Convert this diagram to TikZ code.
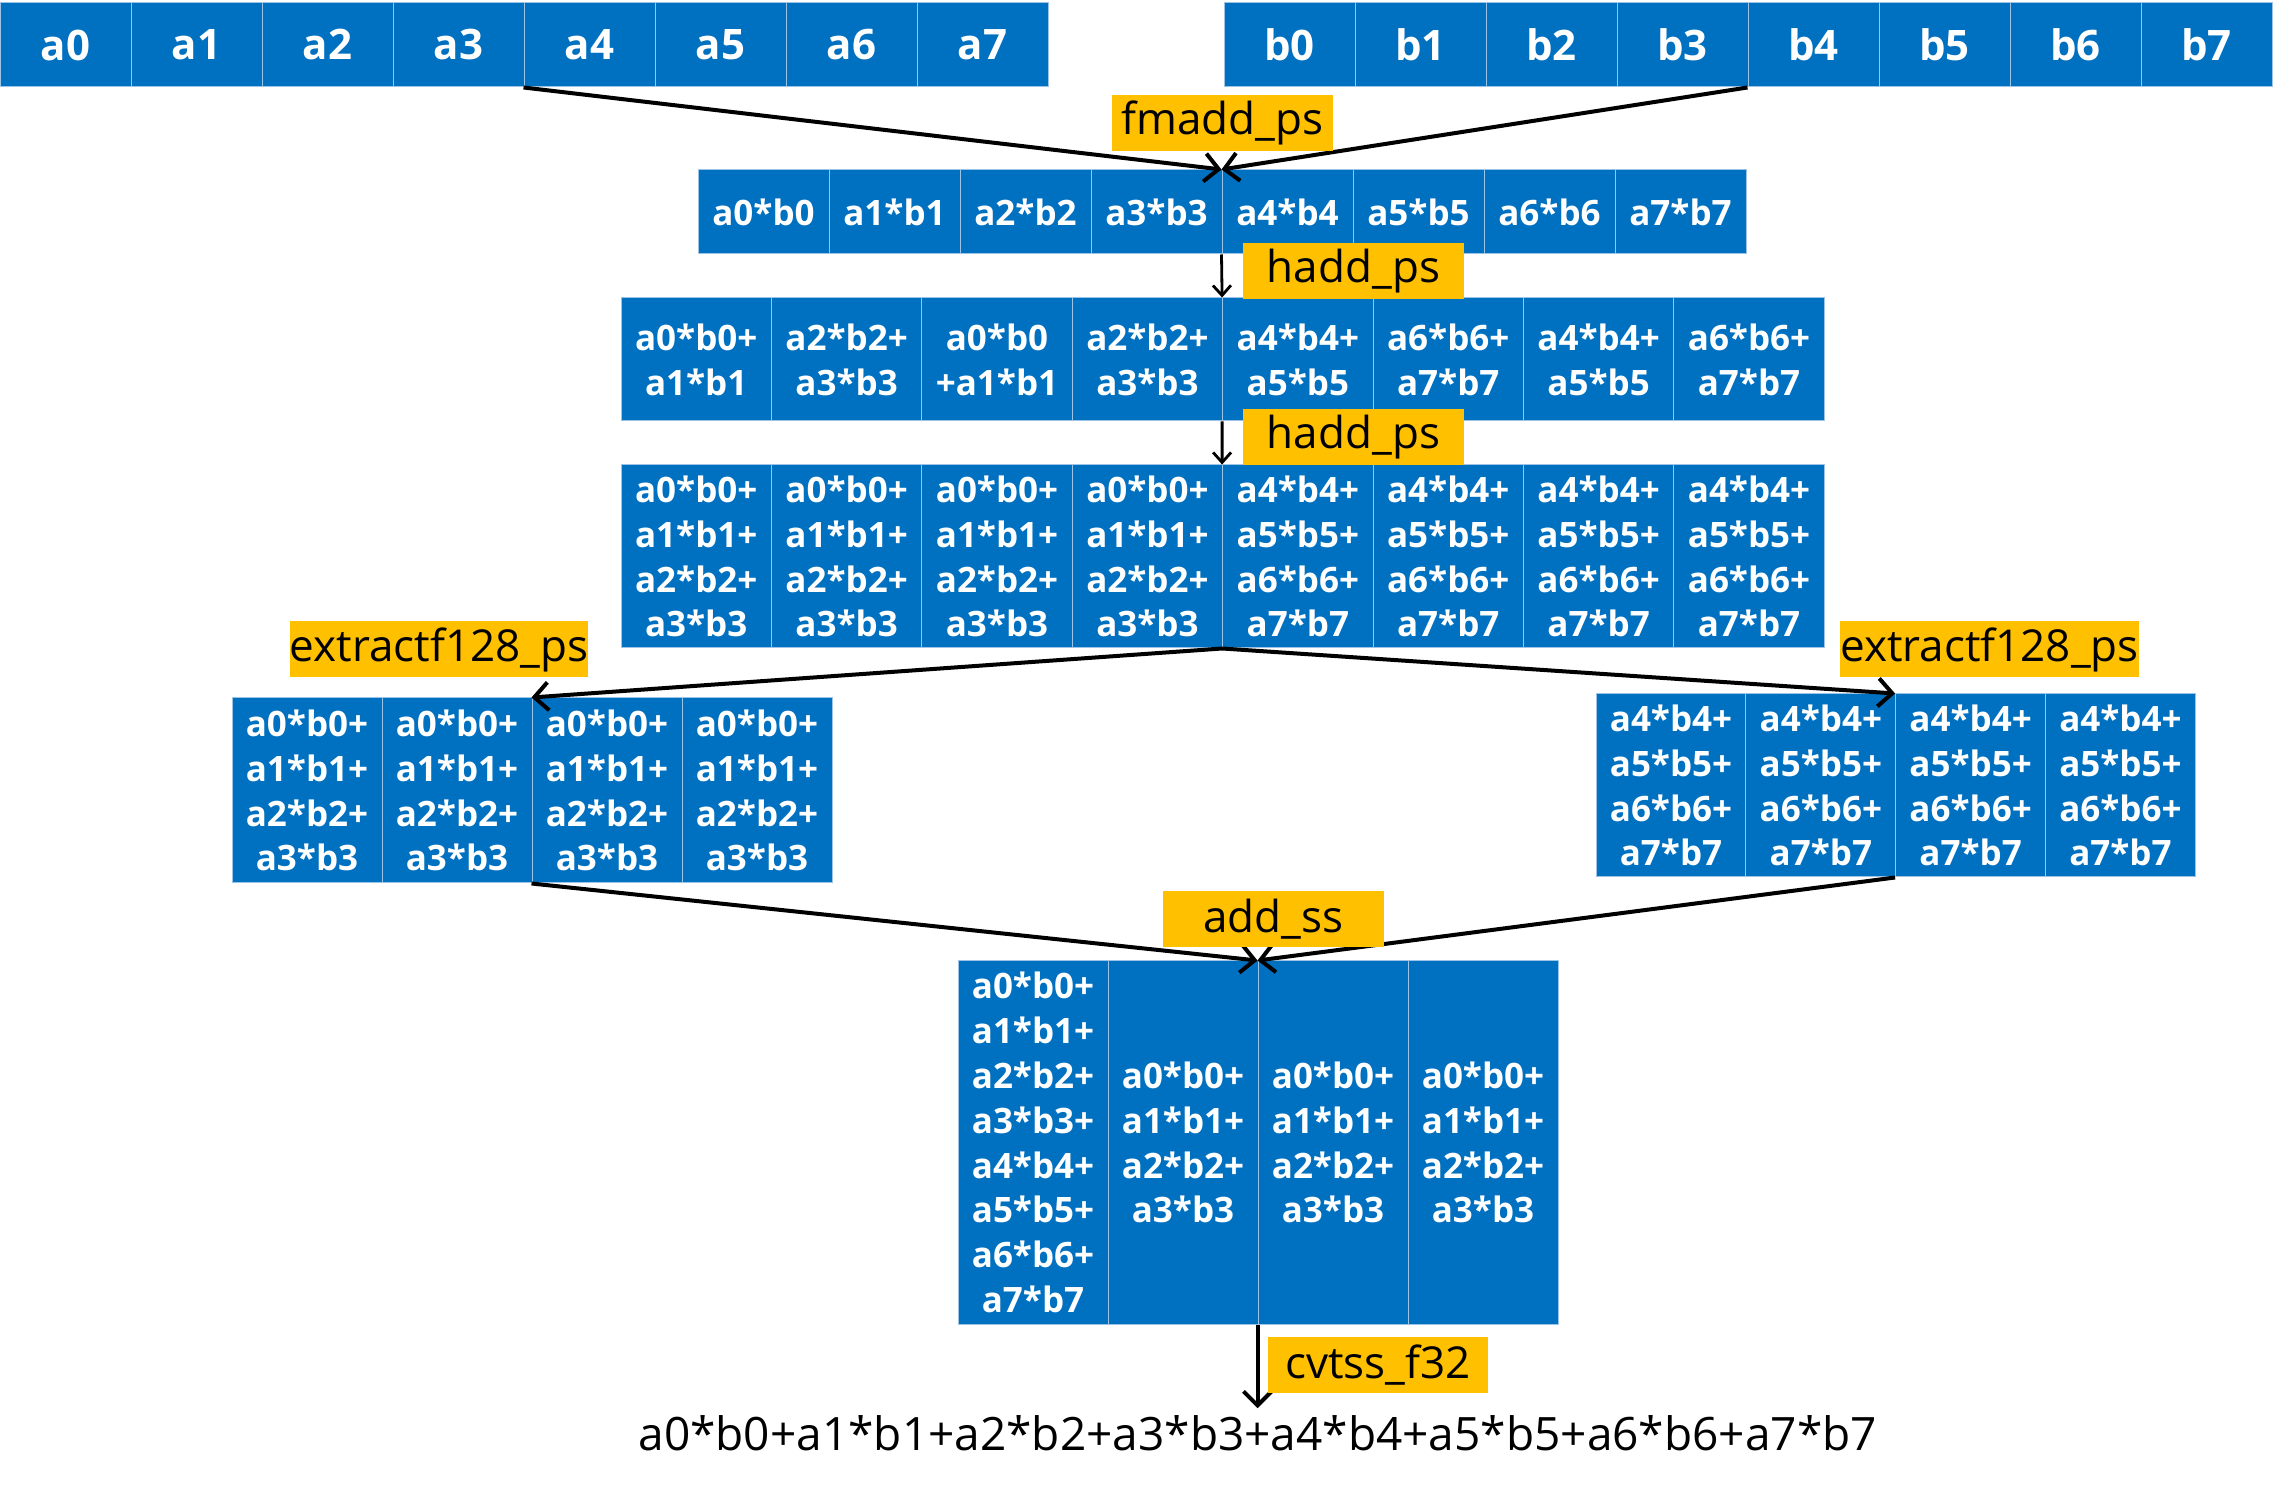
\documentclass[tikz,border=0pt]{standalone}
\usepackage{fontspec}
\setmainfont{Open Sans}
\usetikzlibrary{arrows.meta}

\definecolor{zellblau}{RGB}{0,112,192}
\definecolor{zellrand}{RGB}{157,195,230}
\definecolor{befehlgelb}{RGB}{255,192,0}

\tikzset{
  zelle/.style={draw=zellrand, line width=0.5pt, fill=zellblau, text=white,
    font=\bfseries\fontsize{17.5}{22.4}\selectfont, inner sep=0pt, align=center},
  befehl/.style={fill=befehlgelb, inner sep=0pt, minimum height=28pt,
    font=\fontsize{22}{26}\selectfont},
  dick/.style={line width=2pt},
  duenn/.style={line width=1.4pt, >={Straight Barb[length=5pt,width=9pt]}}
}

\begin{document}
\begin{tikzpicture}[x=0.5pt,y=-0.5pt,>={Straight Barb[length=7pt,width=14pt]}]
\useasboundingbox (0,0) rectangle (2277,1491);

% Eingangsvektoren
\foreach \i in {0,...,7} {
  \node[zelle, font=\bfseries\fontsize{21}{25}\selectfont, minimum width=65.5pt, minimum height=42pt]
    (a\i) at ({65.5+131*\i},45) {a\i};
  \node[zelle, font=\bfseries\fontsize{21}{25}\selectfont, minimum width=65.5pt, minimum height=42pt]
    (b\i) at ({1289.5+131*\i},45) {b\i};
}

% Produkte
\foreach \i in {0,...,7}
  \node[zelle, minimum width=65.5pt, minimum height=42pt] (p\i) at ({763.5+131*\i},212) {a\i*b\i};

% erstes hadd
\foreach \i/\txt in {0/{a0*b0+\\a1*b1}, 1/{a2*b2+\\a3*b3}, 2/{a0*b0\\+a1*b1}, 3/{a2*b2+\\a3*b3},
                     4/{a4*b4+\\a5*b5}, 5/{a6*b6+\\a7*b7}, 6/{a4*b4+\\a5*b5}, 7/{a6*b6+\\a7*b7}}
  \node[zelle, minimum width=75.2pt, minimum height=61.5pt] (h\i) at ({696.2+150.4*\i},359.5) {\txt};

% zweites hadd
\foreach \i in {0,...,3} {
  \node[zelle, minimum width=75.2pt, minimum height=91.5pt] (s\i) at ({696.2+150.4*\i},556.5)
    {a0*b0+\\a1*b1+\\a2*b2+\\a3*b3};
  \node[zelle, minimum width=75.2pt, minimum height=91.5pt] (s\the\numexpr\i+4\relax) at ({1297.8+150.4*\i},556.5)
    {a4*b4+\\a5*b5+\\a6*b6+\\a7*b7};
}

% untere und obere Haelfte
\foreach \i in {0,...,3} {
  \node[zelle, minimum width=75pt, minimum height=92.5pt] (l\i) at ({307+150*\i},790.5)
    {a0*b0+\\a1*b1+\\a2*b2+\\a3*b3};
  \node[zelle, minimum width=75pt, minimum height=91.5pt] (r\i) at ({1671+149.8*\i},785.5)
    {a4*b4+\\a5*b5+\\a6*b6+\\a7*b7};
}

% Summe
\node[zelle, minimum width=75pt, minimum height=181.5pt] (f0) at (1033,1142.5)
  {a0*b0+\\a1*b1+\\a2*b2+\\a3*b3+\\a4*b4+\\a5*b5+\\a6*b6+\\a7*b7};
\foreach \i in {1,...,3}
  \node[zelle, minimum width=75pt, minimum height=181.5pt] (f\i) at ({1033+150*\i},1142.5)
    {a0*b0+\\a1*b1+\\a2*b2+\\a3*b3};

\node[font=\fontsize{23}{27}\selectfont] (erg) at (1257.5,1433)
  {a0*b0+a1*b1+a2*b2+a3*b3+a4*b4+a5*b5+a6*b6+a7*b7};

% Pfeile
\draw[->,dick] (a4.south west) -- (p4.north west);
\draw[->,dick] (b4.south west) -- (p4.north west);
\draw[->,duenn] (p4.south west) -- (h4.north west);
\draw[->,duenn] (h4.south west) -- (s4.north west);
\draw[->,dick] (s4.south west) -- (l2.north west);
\draw[->,dick] (s4.south west) -- (r2.north west);
\draw[->,dick] (l2.south west) -- (f2.north west);
\draw[->,dick] (r2.south west) -- (f2.north west);
\draw[->,dick] (f2.south west) -- (f2.south west |- erg.north);

% Befehle
\node[befehl, minimum width=110.5pt] (fmadd) at (1222.5,123) {fmadd\_ps};
\node[befehl, minimum width=110.5pt] (hadd1) at (1353.5,271.5) {hadd\_ps};
\node[befehl, minimum width=110.5pt] (hadd2) at (1353.5,437) {hadd\_ps};
\node[befehl, minimum width=149pt] (extl) at (439,649.5) {extractf128\_ps};
\node[befehl, minimum width=149.5pt] (extr) at (1989.5,649.5) {extractf128\_ps};
\node[befehl, minimum width=110.5pt] (addss) at (1273.5,919) {add\_ss};
\node[befehl, minimum width=110pt] (cvt) at (1378,1365) {cvtss\_f32};

\end{tikzpicture}
\end{document}
